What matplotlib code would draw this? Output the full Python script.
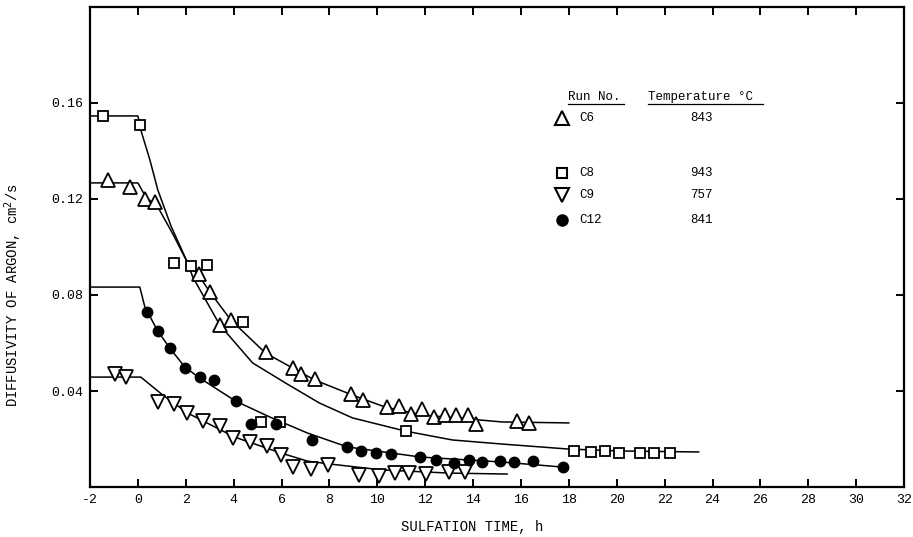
import matplotlib
matplotlib.use("Agg")
import matplotlib.pyplot as plt

plt.rcParams['font.family'] = ['Liberation Mono', 'DejaVu Sans Mono']

c6_x = [-1.25, -0.33, 0.29, 0.71, 2.54, 3.0, 3.42, 3.88, 5.33, 6.46, 6.83, 7.38,
        8.92, 9.42, 10.42, 10.92, 11.42, 11.88, 12.38, 12.83, 13.29, 13.79, 14.13,
        15.83, 16.33]
c6_y = [0.1279, 0.125, 0.12, 0.1188, 0.0888, 0.0813, 0.0675, 0.0696, 0.0563, 0.0496,
        0.0471, 0.045, 0.0388, 0.0363, 0.0333, 0.0338, 0.0304, 0.0325, 0.0292, 0.03,
        0.03, 0.03, 0.0263, 0.0275, 0.0267]

c8_x = [-1.46, 0.08, 1.5, 2.21, 2.88, 4.38, 5.13, 5.92, 11.21, 18.21, 18.92, 19.5,
        20.08, 20.96, 21.54, 22.21]
c8_y = [0.1546, 0.1508, 0.0933, 0.0921, 0.0925, 0.0688, 0.0271, 0.0271, 0.0233,
        0.015, 0.0146, 0.015, 0.0142, 0.0142, 0.0142, 0.0142]

c9_x = [-0.96, -0.5, 0.83, 1.5, 2.04, 2.71, 3.42, 3.96, 4.67, 5.38, 5.96, 6.46, 7.21,
        7.96, 9.25, 10.08, 10.75, 11.33, 12.04, 13.0, 13.67]
c9_y = [0.0471, 0.0458, 0.0354, 0.0346, 0.0308, 0.0275, 0.0254, 0.0204, 0.0188,
        0.0171, 0.0133, 0.0083, 0.0075, 0.0092, 0.005, 0.0046, 0.0058, 0.0058,
        0.0054, 0.0063, 0.0063]

c12_x = [0.38, 0.83, 1.33, 1.96, 2.58, 3.17, 4.08, 4.71, 5.75, 7.29, 8.75, 9.33, 9.96,
         10.58, 11.79, 12.46, 13.21, 13.83, 14.38, 15.13, 15.71, 16.5, 17.75]
c12_y = [0.0729, 0.065, 0.0579, 0.0496, 0.0458, 0.0446, 0.0358, 0.0263, 0.0263,
         0.0196, 0.0167, 0.015, 0.0142, 0.0138, 0.0125, 0.0113, 0.01, 0.0113, 0.0104,
         0.0108, 0.0104, 0.0108, 0.0083]

# fitted curves
c6_fit_x = [-2.0, 0.0, 0.33, 0.83, 1.46, 2.08, 2.5, 3.0, 3.88, 5.33, 6.46, 7.38, 8.96,
            10.33, 11.88, 12.83, 15.21, 18.0]
c6_fit_y = [0.1267, 0.1267, 0.1208, 0.1167, 0.1054, 0.0933, 0.0888, 0.0813, 0.0696,
            0.0558, 0.0496, 0.0446, 0.0383, 0.0333, 0.03, 0.0292, 0.0271, 0.0267]

c8_fit_x = [-2.0, 0.0, 0.12, 0.5, 0.83, 1.38, 2.08, 2.29, 3.42, 4.79, 6.17, 7.58, 8.96,
            11.17, 13.13, 15.21, 18.0, 20.21, 23.42]
c8_fit_y = [0.1546, 0.1546, 0.1488, 0.1363, 0.1238, 0.1088, 0.0933, 0.0875, 0.0675,
            0.0517, 0.0433, 0.035, 0.0288, 0.0233, 0.0196, 0.0179, 0.0158, 0.015,
            0.0146]

c9_fit_x = [-2.0, 0.12, 1.04, 2.08, 4.04, 5.96, 7.08, 8.0, 10.21, 13.0, 15.42]
c9_fit_y = [0.0458, 0.0458, 0.0383, 0.0308, 0.0208, 0.0142, 0.0108, 0.0096, 0.0071,
            0.0058, 0.0054]

c12_fit_x = [-2.0, 0.08, 0.29, 0.83, 1.33, 1.96, 2.58, 4.08, 5.5, 7.08, 8.75, 11.79,
             15.21, 17.75]
c12_fit_y = [0.0833, 0.0833, 0.075, 0.065, 0.0579, 0.05, 0.0454, 0.0358, 0.0292,
             0.0225, 0.0167, 0.0125, 0.0104, 0.0083]

runs = ['C6', 'C8', 'C9', 'C12']
temps = ['843', '943', '757', '841']

x_ticks = list(range(-2, 33, 2))
y_ticks = [0.04, 0.08, 0.12, 0.16]
y_tick_labels = ['0.04', '0.08', '0.12', '0.16']

fig = plt.figure(figsize=(9.13, 5.37), dpi=100)
ax = fig.add_axes([0.0986, 0.0931, 0.8916, 0.8939])

# curves
for fx, fy in [(c6_fit_x, c6_fit_y), (c8_fit_x, c8_fit_y),
               (c9_fit_x, c9_fit_y), (c12_fit_x, c12_fit_y)]:
    ax.plot(fx, fy, color='black', linewidth=1.1)

# points
open_kw = dict(linestyle='none', markerfacecolor='white', markeredgecolor='black',
               markeredgewidth=1.3, zorder=3)
ax.plot(c6_x, c6_y, marker='^', markersize=10, **open_kw)
ax.plot(c8_x, c8_y, marker='s', markersize=7.5, **open_kw)
ax.plot(c9_x, c9_y, marker='v', markersize=10, **open_kw)
ax.plot(c12_x, c12_y, marker='o', markersize=7.5, linestyle='none', color='black',
        zorder=3)

ax.set_xlim(-2, 32)
ax.set_ylim(0, 0.2)
ax.set_xticks(x_ticks)
ax.set_xticklabels([str(t) for t in x_ticks])
ax.set_yticks(y_ticks)
ax.set_yticklabels(y_tick_labels)
ax.tick_params(direction='in', length=6, width=1.4, labelsize=9.5,
               top=True, right=True, pad=5)
for sp in ax.spines.values():
    sp.set_linewidth(1.6)

ax.set_xlabel('SULFATION TIME, h', fontsize=10)
ax.xaxis.set_label_coords(0.469, -0.068)
ax.set_ylabel('DIFFUSIVITY OF ARGON, cm$^2$/s', fontsize=10)
ax.yaxis.set_label_coords(-0.081, 0.40)

# legend table
tr = ax.transAxes
ax.text(0.587, 0.8125, 'Run No.', transform=tr, fontsize=9, va='center', ha='left')
ax.text(0.686, 0.8125, 'Temperature \u00b0C', transform=tr, fontsize=9,
        va='center', ha='left')
ax.plot([0.587, 0.656], [0.798, 0.798], transform=tr, color='black', linewidth=0.9)
ax.plot([0.686, 0.827], [0.798, 0.798], transform=tr, color='black', linewidth=0.9)

leg_y = [0.769, 0.654, 0.608, 0.556]
leg_markers = ['^', 's', 'v', 'o']
leg_size = [10, 7.5, 10, 7.5]
for run, temp, yy, mk, ms in zip(runs, temps, leg_y, leg_markers, leg_size):
    face = 'black' if mk == 'o' else 'white'
    ax.plot([0.5799], [yy], transform=tr, marker=mk, markersize=ms,
            markerfacecolor=face, markeredgecolor='black', markeredgewidth=1.5,
            linestyle='none')
    ax.text(0.601, yy, run, transform=tr, fontsize=9, va='center', ha='left')
    ax.text(0.737, yy, temp, transform=tr, fontsize=9, va='center', ha='left')

fig.savefig('out.png', dpi=100)
